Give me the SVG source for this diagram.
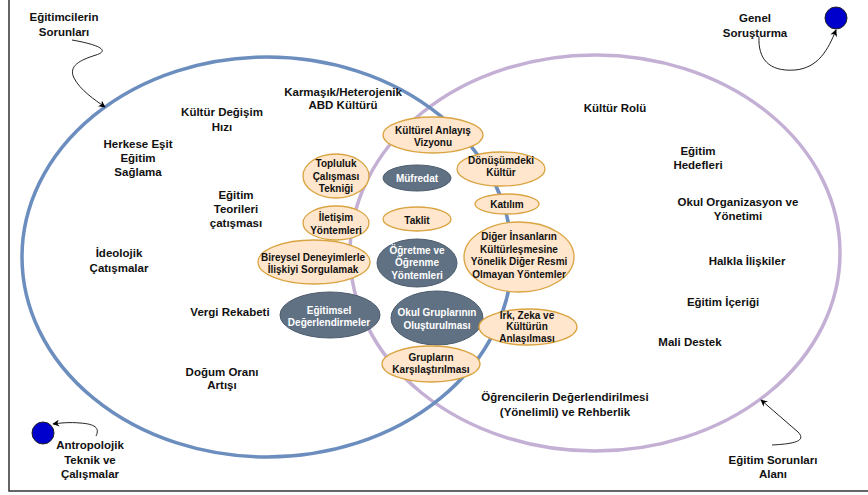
<svg xmlns="http://www.w3.org/2000/svg" width="868" height="495" viewBox="0 0 868 495">
<defs>
<marker id="arr" viewBox="0 0 10 10" refX="9" refY="5" markerWidth="7" markerHeight="7" markerUnits="userSpaceOnUse" orient="auto">
<path d="M0,0 L10,5 L0,10 L3,5 Z" fill="#000"/>
</marker>
</defs>
<style>
text{font-family:"Liberation Sans",Arial,sans-serif;font-weight:bold;text-anchor:middle;fill:#111}
.lbl{font-size:11.5px}
.nt{font-size:10px}
.wt{font-size:10px;fill:#fff}
.or{fill:#ffe6cc;stroke:#d9a441;stroke-width:1.3}
.dk{fill:#607183;stroke:#4c5c6d;stroke-width:1}
.conn{fill:none;stroke:#222;stroke-width:1;marker-end:url(#arr)}
.dot{fill:#0000cc;stroke:#222;stroke-width:1}
</style>
<rect width="868" height="495" fill="#fff"/>
<path d="M9,0 L9,491 L868,491" fill="none" stroke="#333" stroke-width="1.5"/>

<g id="alanlar">
<ellipse id="egitim-sorunlari-alani" cx="595" cy="253" rx="245" ry="198" fill="none" stroke="#c5b0d5" stroke-width="3.5"/>
<ellipse id="egitimcilerin-sorunlari" cx="267" cy="257" rx="245" ry="200" fill="none" stroke="#6c8ebf" stroke-width="3.5"/>
</g>

<g id="connectors">
<path class="conn" d="M72,40 C95,44 112,50 96,55 C80,60 68,66 74,78 C80,90 95,100 105,107"/>
<path class="conn" d="M759,37 C758,58 768,72 795,70 C818,68 828,50 836,30"/>
<path class="conn" d="M772,445 C790,444 808,442 798,432 L761,400"/>
<path class="conn" d="M96,436 C100,428 95,424 80,423 C70,422 60,423 53,424"/>
</g>

<g id="dot-antropolojik"><circle class="dot" cx="43" cy="433" r="11"/></g>
<g id="dot-genel"><circle class="dot" cx="836" cy="18" r="11"/></g>

<g id="lbl-egitimcilerin"><text class="lbl" x="64" y="21">Eğitimcilerin</text><text class="lbl" x="64" y="36">Sorunları</text></g>
<g id="lbl-kultur-degisim"><text class="lbl" x="222" y="116">Kültür Değişim</text><text class="lbl" x="222" y="131">Hızı</text></g>
<g id="lbl-herkese"><text class="lbl" x="138" y="148">Herkese Eşit</text><text class="lbl" x="138" y="162">Eğitim</text><text class="lbl" x="138" y="176">Sağlama</text></g>
<g id="lbl-teoriler"><text class="lbl" x="236" y="199">Eğitim</text><text class="lbl" x="236" y="213">Teorileri</text><text class="lbl" x="236" y="227">çatışması</text></g>
<g id="lbl-karmasik"><text class="lbl" x="343" y="96">Karmaşık/Heterojenik</text><text class="lbl" x="343" y="109">ABD Kültürü</text></g>
<g id="lbl-ideolojik"><text class="lbl" x="119" y="257">İdeolojik</text><text class="lbl" x="119" y="272">Çatışmalar</text></g>
<g id="lbl-vergi"><text class="lbl" x="230" y="316">Vergi Rekabeti</text></g>
<g id="lbl-dogum"><text class="lbl" x="222" y="376">Doğum Oranı</text><text class="lbl" x="222" y="389">Artışı</text></g>
<g id="lbl-antropolojik"><text class="lbl" x="90" y="449">Antropolojik</text><text class="lbl" x="90" y="464">Teknik ve</text><text class="lbl" x="90" y="478">Çalışmalar</text></g>
<g id="lbl-genel"><text class="lbl" x="755" y="22">Genel</text><text class="lbl" x="755" y="37">Soruşturma</text></g>
<g id="lbl-kultur-rolu"><text class="lbl" x="615" y="112">Kültür Rolü</text></g>
<g id="lbl-hedefler"><text class="lbl" x="698" y="155">Eğitim</text><text class="lbl" x="698" y="169">Hedefleri</text></g>
<g id="lbl-okul-org"><text class="lbl" x="738" y="206">Okul Organizasyon ve</text><text class="lbl" x="738" y="220">Yönetimi</text></g>
<g id="lbl-halkla"><text class="lbl" x="747" y="265">Halkla İlişkiler</text></g>
<g id="lbl-icerik"><text class="lbl" x="723" y="306">Eğitim İçeriği</text></g>
<g id="lbl-mali"><text class="lbl" x="690" y="346">Mali Destek</text></g>
<g id="lbl-ogrenciler"><text class="lbl" x="565" y="401">Öğrencilerin Değerlendirilmesi</text><text class="lbl" x="565" y="416">(Yönelimli) ve Rehberlik</text></g>
<g id="lbl-alan"><text class="lbl" x="773" y="464">Eğitim Sorunları</text><text class="lbl" x="773" y="478">Alanı</text></g>

<g id="n-kulturel"><ellipse class="or" cx="433" cy="135" rx="50" ry="18"/><text class="nt" x="433" y="133.5">Kültürel Anlayış</text><text class="nt" x="433" y="145.5">Vizyonu</text></g>
<g id="n-topluluk"><ellipse class="or" cx="336" cy="176" rx="33" ry="22"/><text class="nt" x="336" y="167">Topluluk</text><text class="nt" x="336" y="179.5">Çalışması</text><text class="nt" x="336" y="192">Tekniği</text></g>
<g id="n-mufredat"><ellipse class="dk" cx="417" cy="178" rx="34" ry="13"/><text class="wt" x="417" y="181.5">Müfredat</text></g>
<g id="n-donusum"><ellipse class="or" cx="501" cy="169" rx="44" ry="17"/><text class="nt" x="501" y="164">Dönüşümdeki</text><text class="nt" x="501" y="176">Kültür</text></g>
<g id="n-katilim"><ellipse class="or" cx="507" cy="204" rx="32" ry="10"/><text class="nt" x="507" y="207.5">Katılım</text></g>
<g id="n-iletisim"><ellipse class="or" cx="336" cy="223" rx="33" ry="17"/><text class="nt" x="336" y="221">İletişim</text><text class="nt" x="336" y="233.5">Yöntemleri</text></g>
<g id="n-taklit"><ellipse class="or" cx="417" cy="219" rx="34" ry="12"/><text class="nt" x="417" y="223.5">Taklit</text></g>
<g id="n-bireysel"><ellipse class="or" cx="314" cy="262" rx="56" ry="22"/><text class="nt" x="313" y="261">Bireysel Deneyimlerle</text><text class="nt" x="313" y="273">İlişkiyi Sorgulamak</text></g>
<g id="n-ogretme"><ellipse class="dk" cx="417" cy="263" rx="40" ry="24"/><text class="wt" x="417" y="254">Öğretme ve</text><text class="wt" x="417" y="266">Öğrenme</text><text class="wt" x="417" y="278.5">Yöntemleri</text></g>
<g id="n-diger"><ellipse class="or" cx="519" cy="257" rx="55" ry="35"/><text class="nt" x="519" y="240">Diğer İnsanların</text><text class="nt" x="519" y="253">Kültürleşmesine</text><text class="nt" x="519" y="265">Yönelik Diğer Resmi</text><text class="nt" x="519" y="277.5">Olmayan Yöntemler</text></g>
<g id="n-egitimsel"><ellipse class="dk" cx="330" cy="315" rx="50" ry="23"/><text class="wt" x="329" y="313.5">Eğitimsel</text><text class="wt" x="329" y="326">Değerlendirmeler</text></g>
<g id="n-okul"><ellipse class="dk" cx="437" cy="318" rx="46" ry="27"/><text class="wt" x="437" y="316">Okul Gruplarının</text><text class="wt" x="437" y="329">Oluşturulması</text></g>
<g id="n-irk"><ellipse class="or" cx="528" cy="327" rx="49" ry="18"/><text class="nt" x="527" y="318.5">Irk, Zeka ve</text><text class="nt" x="527" y="330">Kültürün</text><text class="nt" x="527" y="342">Anlaşılması</text></g>
<g id="n-gruplar"><ellipse class="or" cx="431" cy="364" rx="49" ry="18"/><text class="nt" x="431" y="361">Grupların</text><text class="nt" x="431" y="373">Karşılaştırılması</text></g>
</svg>
